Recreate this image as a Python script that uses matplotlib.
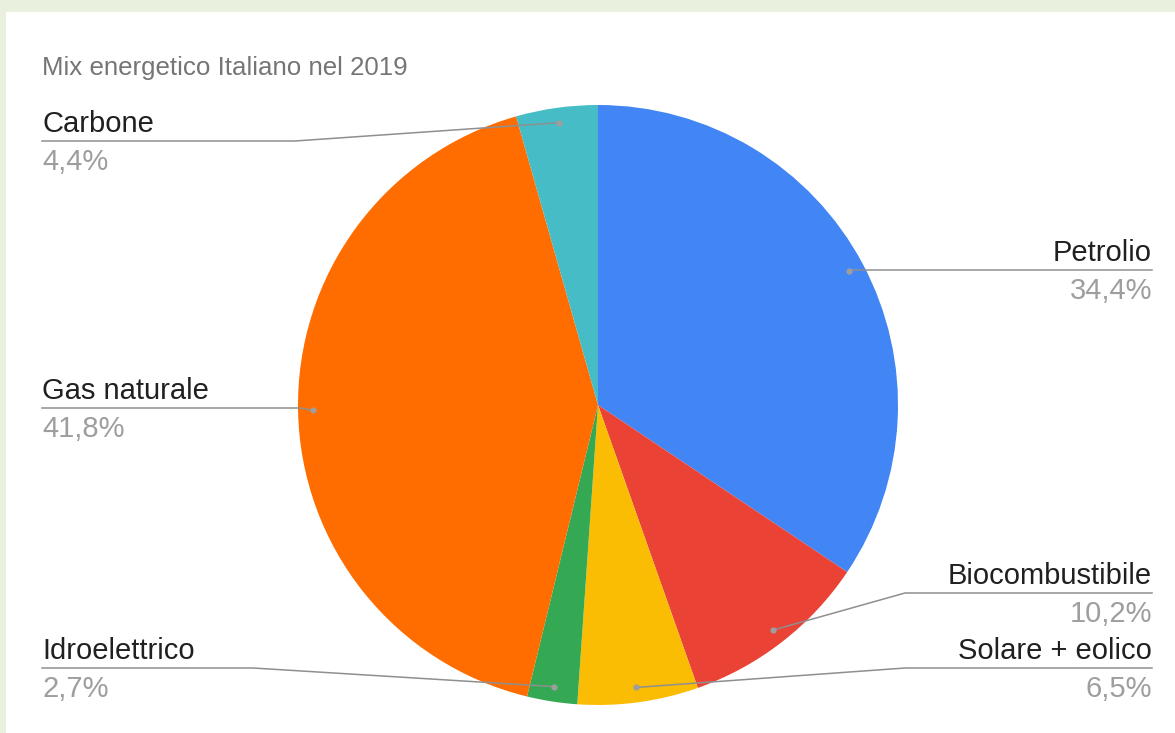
import numpy as np
import matplotlib.pyplot as plt
from matplotlib.patches import Rectangle

plt.rcParams['font.family'] = ['Liberation Sans', 'DejaVu Sans']

title = "Mix energetico Italiano nel 2019"
labels = ["Petrolio", "Biocombustibile", "Solare + eolico", "Idroelettrico", "Gas naturale", "Carbone"]
values = [34.4, 10.2, 6.5, 2.7, 41.8, 4.4]
colors = ["#4285f4", "#ea4335", "#fbbc04", "#34a853", "#ff6d01", "#46bdc6"]

W, H = 1175, 733
fig = plt.figure(figsize=(W / 100, H / 100), dpi=100)
fig.patch.set_facecolor("#e9f1de")
fig.patches.append(Rectangle((6 / W, 0), 1, (H - 12) / H, transform=fig.transFigure,
                             facecolor="white", edgecolor="none", zorder=-5))


def fy(py):
    # pixel y measured from the top -> figure fraction
    return 1 - py / H


# pie centre (598, 405), radius 300 px
cx, cy, r = 598, 405, 300
ax = fig.add_axes([(cx - r) / W, fy(cy + r), 2 * r / W, 2 * r / H])
ax.set_zorder(1)
ax.patch.set_visible(False)
ax.pie(values, colors=colors, startangle=90, counterclock=False, radius=1,
       wedgeprops=dict(linewidth=0))
ax.set_xlim(-1, 1)
ax.set_ylim(-1, 1)
ax.axis("off")

fig.text(42 / W, fy(75), title, fontsize=18.6, color="#757575", ha="left", va="baseline")

# label layout: (side, line y px, elbow x px)
layout = {
    "Petrolio": ("right", 270, 850),
    "Biocombustibile": ("right", 593, 905),
    "Solare + eolico": ("right", 668, 905),
    "Idroelettrico": ("left", 668, 253),
    "Gas naturale": ("left", 408, 300),
    "Carbone": ("left", 141, 295),
}

total = sum(values)
cum = np.cumsum([0] + values[:-1])
to_fig = ax.transData + fig.transFigure.inverted()
line_col = "#8f8f8f"
for lab, v, c0 in zip(labels, values, cum):
    frac = (c0 + v / 2) / total
    ang = 2 * np.pi * frac
    dx, dy = 0.95 * np.sin(ang), 0.95 * np.cos(ang)
    px, py = to_fig.transform((dx, dy))
    side, ly, ex = layout[lab]
    end = 42 if side == "left" else 1152
    xs = [px, ex / W, end / W]
    ys = [py, fy(ly), fy(ly)]
    fig.add_artist(plt.Line2D(xs, ys, transform=fig.transFigure, color=line_col, lw=1.1, zorder=3))
    fig.add_artist(plt.Line2D([px], [py], transform=fig.transFigure, marker="o", ms=3.5,
                              color="#9e9e9e", lw=0, zorder=4))
    ha = "left" if side == "left" else "right"
    pct = f"{v:.1f}%".replace(".", ",")
    fig.text(end / W, fy(ly - 9), lab, fontsize=21, color="#202020", ha=ha, va="baseline")
    fig.text(end / W, fy(ly + 29), pct, fontsize=21, color="#9e9e9e", ha=ha, va="baseline")

fig.savefig("out.png", dpi=100, facecolor=fig.get_facecolor())
